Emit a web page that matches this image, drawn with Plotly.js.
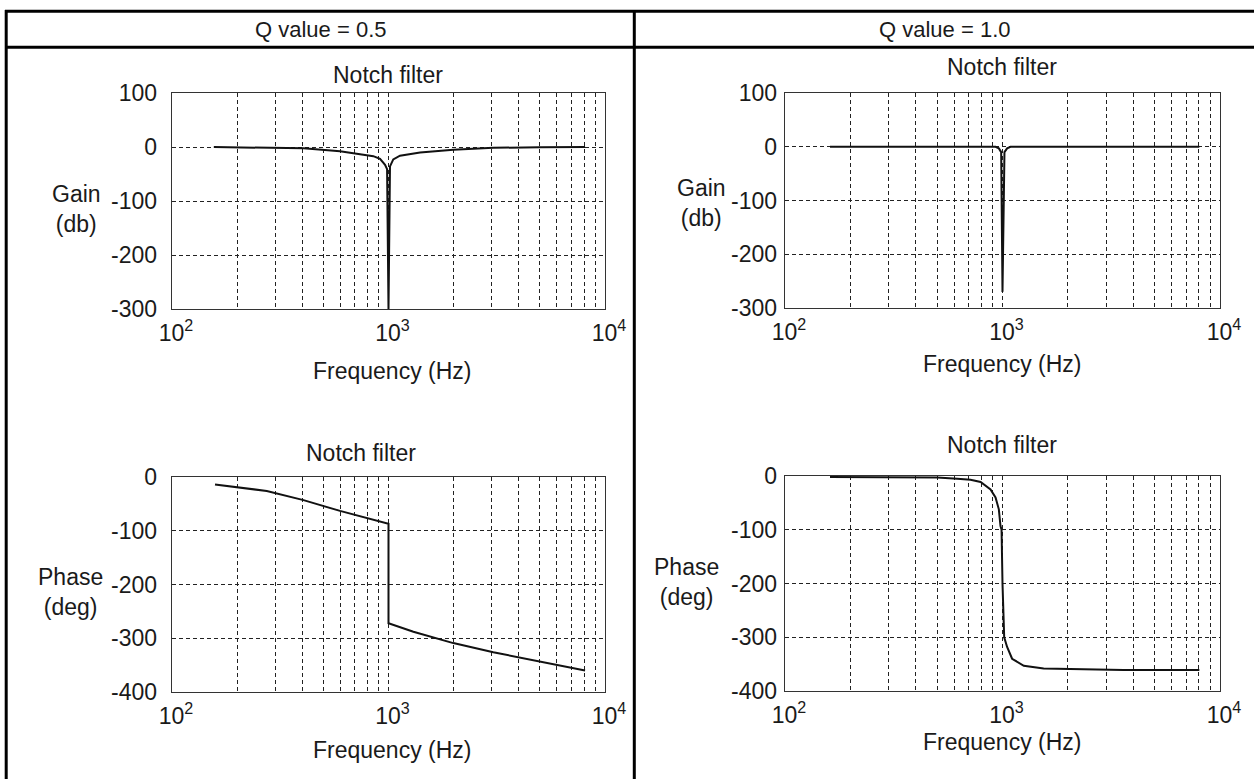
<!DOCTYPE html>
<html>
<head>
<meta charset="utf-8">
<script src="https://cdn.plot.ly/plotly-3.0.1.min.js"></script>
<style>html,body{margin:0;padding:0;background:#fff;}#chart{width:1254px;height:779px;}</style>
</head>
<body>
<div id="chart"></div>
<script>
// ---------- data ----------
const headers = ['Q value = 0.5', 'Q value = 1.0'];
const plotTitle = 'Notch filter';
const xTitle = 'Frequency (Hz)';
const gainTitle = 'Gain<br>(db)';
const phaseTitle = 'Phase<br>(deg)';

const freqGainQ05 = [156, 250, 405, 597, 738, 851, 914, 964, 985, 1000, 1016, 1052, 1130, 1399, 1992, 3048, 5000, 8090];
const gainQ05     = [0, -1, -2.5, -8, -13, -17, -22, -33, -41, -300, -36, -23, -16, -10, -5, -1.5, -0.5, 0];

const freqGainQ10 = [161, 929, 962, 986, 1000, 1021, 1050, 1089, 8035];
const gainQ10     = [0, 0, -3, -10, -270, -10, -3, 0, 0];

const freqPhaseQ05 = [158, 199, 274, 405, 597, 1000, 1000, 1303, 1992, 3048, 5012, 8090];
const phaseQ05     = [-14, -19, -26, -43, -63, -87, -272, -288, -309, -326, -344, -360];

const freqPhaseQ10 = [161, 501, 619, 713, 793, 881, 929, 962, 979, 990, 1000, 1018, 1050, 1107, 1253, 1546, 3597, 8035];
const phaseQ10     = [-2, -3, -5, -7, -11, -25, -40, -62, -93, -100, -200, -300, -318, -340, -353, -358, -361, -361];

const gainTicks  = [100, 0, -100, -200, -300];
const phaseTicks = [0, -100, -200, -300, -400];
const decadeTicks  = [100, 1000, 10000];
const decadeLabels = ['10<sup>2</sup>', '10<sup>3</sup>', '10<sup>4</sup>'];
const minorGrid = [200,300,400,500,600,700,800,900,2000,3000,4000,5000,6000,7000,8000,9000];

// ---------- layout helpers ----------
const W = 1254, H = 779;
const fx = v => v / W;
const fy = v => 1 - v / H;
const FONT = 'Liberation Sans, Arial, sans-serif';
const TXT = '#1a1a1a';
const FS = 23;
const FS_HEAD = 22;
const GRID = {gridcolor: '#222', gridwidth: 1, griddash: '4px,3px'};

function xAxis(left, right, anchor) {
  return Object.assign({
    type: 'log', range: [2, 4], domain: [fx(left), fx(right)], anchor: anchor,
    tickmode: 'array', tickvals: decadeTicks, ticktext: decadeLabels,
    ticks: '', showgrid: true,
    minor: Object.assign({tickmode: 'array', tickvals: minorGrid, showgrid: true, ticks: ''}, GRID),
    showline: true, mirror: true, linecolor: '#333', linewidth: 1.3,
    zeroline: false, tickfont: {family: FONT, size: FS, color: TXT},
    ticklabelstandoff: 3, ticklabelshift: 4, fixedrange: true
  }, GRID);
}
function yAxis(top, bottom, anchor, ticks, standoff) {
  return Object.assign({
    range: [ticks[ticks.length - 1], ticks[0]], domain: [fy(bottom), fy(top)], anchor: anchor,
    tickmode: 'array', tickvals: ticks, ticktext: ticks.map(String),
    ticks: '', showgrid: true,
    showline: true, mirror: true, linecolor: '#333', linewidth: 1.3,
    zeroline: false, tickfont: {family: FONT, size: FS, color: TXT},
    ticklabelstandoff: standoff, fixedrange: true
  }, GRID);
}

const line = {color: '#111', width: 2};
const traces = [
  {x: freqGainQ05, y: gainQ05, xaxis: 'x', yaxis: 'y', mode: 'lines', line: line, hoverinfo: 'skip'},
  {x: freqGainQ10, y: gainQ10, xaxis: 'x2', yaxis: 'y2', mode: 'lines', line: line, hoverinfo: 'skip'},
  {x: freqPhaseQ05, y: phaseQ05, xaxis: 'x3', yaxis: 'y3', mode: 'lines', line: line, hoverinfo: 'skip'},
  {x: freqPhaseQ10, y: phaseQ10, xaxis: 'x4', yaxis: 'y4', mode: 'lines', line: line, hoverinfo: 'skip'}
];

function ann(text, x, y, size) {
  return {text: text, x: fx(x), y: fy(y), xref: 'paper', yref: 'paper',
    showarrow: false, xanchor: 'center', yanchor: 'middle',
    font: {family: FONT, size: size || FS, color: TXT}};
}

const annotations = [
  ann(headers[0], 320, 29, FS_HEAD),
  ann(headers[1], 944, 29, FS_HEAD),
  ann(plotTitle, 388, 75),
  ann(plotTitle, 1002, 67),
  ann(plotTitle, 361, 453),
  ann(plotTitle, 1002, 445),
  ann(xTitle, 392, 371),
  ann(xTitle, 1002, 364),
  ann(xTitle, 392, 750),
  ann(xTitle, 1002, 742),
  ann(gainTitle, 76, 209),
  ann(gainTitle, 701, 203),
  ann(phaseTitle, 70, 592),
  ann(phaseTitle, 686, 582)
];

function seg(x0, y0, x1, y1) {
  return {type: 'line', xref: 'paper', yref: 'paper', x0: fx(x0), y0: fy(y0), x1: fx(x1), y1: fy(y1),
    line: {color: '#000', width: 3}};
}
const shapes = [
  seg(5, 11.3, 1254, 11.3),
  seg(5, 47.3, 1254, 47.3),
  seg(6.2, 10, 6.2, 779),
  seg(634.3, 10, 634.3, 779)
];

const layout = {
  width: W, height: H, margin: {l: 0, r: 0, t: 0, b: 0},
  paper_bgcolor: '#fff', plot_bgcolor: '#fff', showlegend: false,
  font: {family: FONT, size: FS, color: TXT},
  xaxis: xAxis(172, 605, 'y'),
  yaxis: yAxis(93, 309, 'x', gainTicks, 9),
  xaxis2: xAxis(785, 1220, 'y2'),
  yaxis2: yAxis(93, 308, 'x2', gainTicks, 2),
  xaxis3: xAxis(172, 605, 'y3'),
  yaxis3: yAxis(477, 692, 'x3', phaseTicks, 9),
  xaxis4: xAxis(785, 1220, 'y4'),
  yaxis4: yAxis(476, 691, 'x4', phaseTicks, 2),
  annotations: annotations,
  shapes: shapes
};

Plotly.newPlot('chart', traces, layout, {staticPlot: true, displayModeBar: false});
</script>
</body>
</html>
